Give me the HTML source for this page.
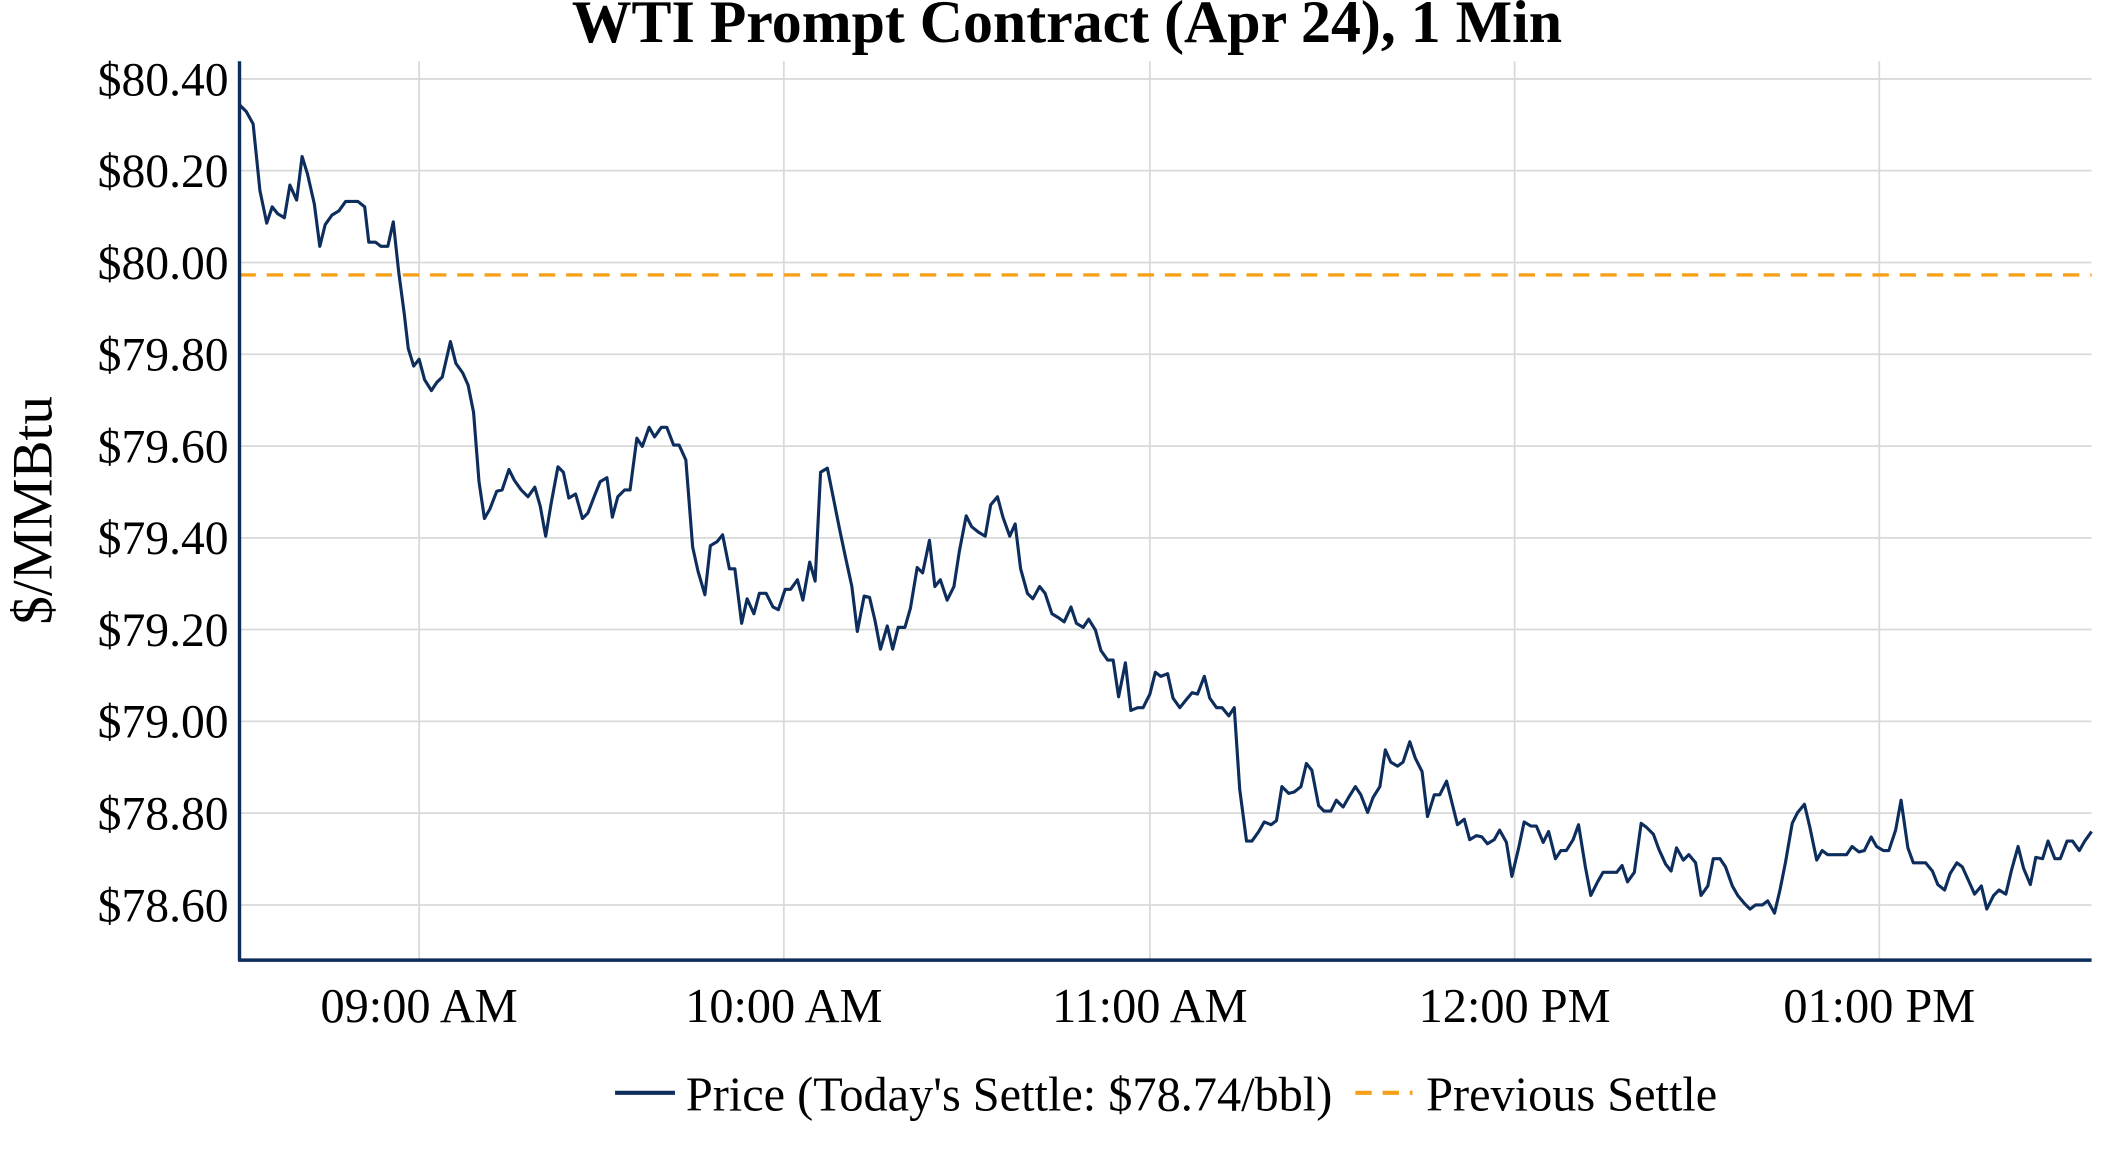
<!DOCTYPE html>
<html><head><meta charset="utf-8"><style>
html,body{margin:0;padding:0;background:#fff;}
svg{display:block;}
text{font-family:"Liberation Serif",serif;fill:#000;}
</style></head><body>
<svg width="2112" height="1152" viewBox="0 0 1552 846.5" preserveAspectRatio="none">
<rect width="1552" height="847" fill="#fff"/>
<g stroke="#d9d9d9" stroke-width="1.3">
<line x1="176" x2="1537" y1="58" y2="58"/>
<line x1="176" x2="1537" y1="125.4" y2="125.4"/>
<line x1="176" x2="1537" y1="192.9" y2="192.9"/>
<line x1="176" x2="1537" y1="260.3" y2="260.3"/>
<line x1="176" x2="1537" y1="327.8" y2="327.8"/>
<line x1="176" x2="1537" y1="395.2" y2="395.2"/>
<line x1="176" x2="1537" y1="462.6" y2="462.6"/>
<line x1="176" x2="1537" y1="530.1" y2="530.1"/>
<line x1="176" x2="1537" y1="597.5" y2="597.5"/>
<line x1="176" x2="1537" y1="665" y2="665"/>
<line x1="308" x2="308" y1="45" y2="705"/>
<line x1="576" x2="576" y1="45" y2="705"/>
<line x1="845" x2="845" y1="45" y2="705"/>
<line x1="1113" x2="1113" y1="45" y2="705"/>
<line x1="1381" x2="1381" y1="45" y2="705"/>
</g>
<line x1="176" x2="1537" y1="202" y2="202" stroke="#f6a01a" stroke-width="2.5" stroke-dasharray="12,8"/>
<polyline fill="none" stroke="#0d2d5c" stroke-width="2.3" stroke-linejoin="round" points="176,77 181,82 186,91 191,140 196,164 200,152 204,157 209,160 213,136 218,147 222,115 226,128 231,150 235,181 239,165 244,158 249,155 254,148 259,148 263,148 268,152 271,178 276,178 280,181 285,181 289,163 293,200 297,230 300,256 304,269 308,264 312,279 317,287 321,281 325,277 331,251 335,267 340,274 344,283 348,303 352,354 356,381 360,374 365,361 369,360 374,345 378,353 383,360 388,365 393,358 397,372 401,394 405,370 410,343 414,347 418,366 423,363 428,381 432,377 437,364 441,354 446,351 450,380 454,365 459,360 463,360 468,322 472,328 477,314 481,321 486,314 490,314 495,327 499,327 504,338 509,402 513,420 518,437 522,401 527,398 531,393 536,418 540,418 545,458 549,440 554,451 558,436 563,436 568,446 572,448 577,433 581,433 586,426 590,441 595,413 599,427 603,347 608,344 612,364 617,389 621,408 626,431 630,464 635,438 639,439 643,456 647,477 652,460 656,477 660,461 665,461 669,447 674,417 678,421 683,397 687,431 691,426 696,441 701,431 705,405 710,379 714,387 719,391 724,394 728,371 733,365 737,380 742,394 746,385 750,418 755,436 759,440 764,431 768,436 773,451 778,454 782,457 787,446 791,458 796,461 800,455 805,463 809,478 814,485 818,485 822,512 827,487 831,522 836,520 840,520 845,510 849,494 853,497 858,495 862,513 867,520 871,515 876,509 880,510 885,497 889,513 894,520 898,520 903,526 907,520 911,580 916,618 920,618 925,611 929,604 934,606 938,603 942,578 947,583 951,582 956,578 960,561 964,566 969,592 973,596 978,596 982,588 987,593 991,586 996,578 1000,584 1005,597 1009,586 1014,578 1018,551 1022,560 1027,563 1031,560 1036,545 1040,557 1045,567 1049,600 1054,584 1058,584 1063,574 1067,590 1071,606 1076,602 1080,617 1085,614 1089,615 1093,620 1098,617 1102,610 1107,619 1111,644 1116,623 1120,604 1125,607 1129,607 1134,619 1138,611 1143,631 1147,625 1151,625 1156,617 1160,606 1165,637 1169,658 1174,648 1178,641 1183,641 1188,641 1192,636 1196,648 1201,641 1206,605 1210,608 1215,613 1219,624 1224,635 1228,640 1232,623 1237,632 1241,628 1246,634 1250,658 1255,651 1259,631 1264,631 1268,637 1273,651 1277,658 1282,664 1286,668 1290,665 1295,665 1299,662 1304,671 1308,654 1312,634 1317,605 1321,597 1326,591 1330,608 1335,632 1339,625 1343,628 1348,628 1352,628 1357,628 1361,622 1366,626 1370,625 1375,615 1379,622 1384,625 1388,625 1393,610 1397,588 1402,623 1406,634 1411,634 1415,634 1420,640 1424,650 1429,654 1433,642 1438,634 1442,637 1447,648 1451,657 1456,651 1460,668 1465,658 1469,654 1474,657 1478,640 1483,622 1487,638 1492,650 1496,630 1501,631 1505,618 1510,631 1514,631 1519,618 1523,618 1528,625 1532,618 1537,611"/>
<line x1="176" x2="176" y1="45" y2="706" stroke="#0d2d5c" stroke-width="2.5"/>
<line x1="175" x2="1537" y1="705.5" y2="705.5" stroke="#0d2d5c" stroke-width="2.5"/>
<g font-size="35" text-anchor="end">
<text x="168" y="70">$80.40</text>
<text x="168" y="137.4">$80.20</text>
<text x="168" y="204.9">$80.00</text>
<text x="168" y="272.3">$79.80</text>
<text x="168" y="339.8">$79.60</text>
<text x="168" y="407.2">$79.40</text>
<text x="168" y="474.6">$79.20</text>
<text x="168" y="542.1">$79.00</text>
<text x="168" y="609.5">$78.80</text>
<text x="168" y="677">$78.60</text>
</g>
<g font-size="35.5" text-anchor="middle">
<text x="308" y="751">09:00 AM</text>
<text x="576" y="751">10:00 AM</text>
<text x="845" y="751">11:00 AM</text>
<text x="1113" y="751">12:00 PM</text>
<text x="1381" y="751">01:00 PM</text>
</g>
<text x="784" y="31" font-size="44" font-weight="bold" text-anchor="middle">WTI Prompt Contract (Apr 24), 1 Min</text>
<text transform="translate(38,375) rotate(-90)" font-size="42" text-anchor="middle">$/MMBtu</text>
<line x1="452" x2="496" y1="803" y2="803" stroke="#0d2d5c" stroke-width="3"/>
<text x="504" y="816" font-size="35.5">Price (Today's Settle: $78.74/bbl)</text>
<line x1="996" x2="1038" y1="803" y2="803" stroke="#f6a01a" stroke-width="3" stroke-dasharray="12,8"/>
<text x="1048" y="816" font-size="35.5">Previous Settle</text>
</svg>
</body></html>
